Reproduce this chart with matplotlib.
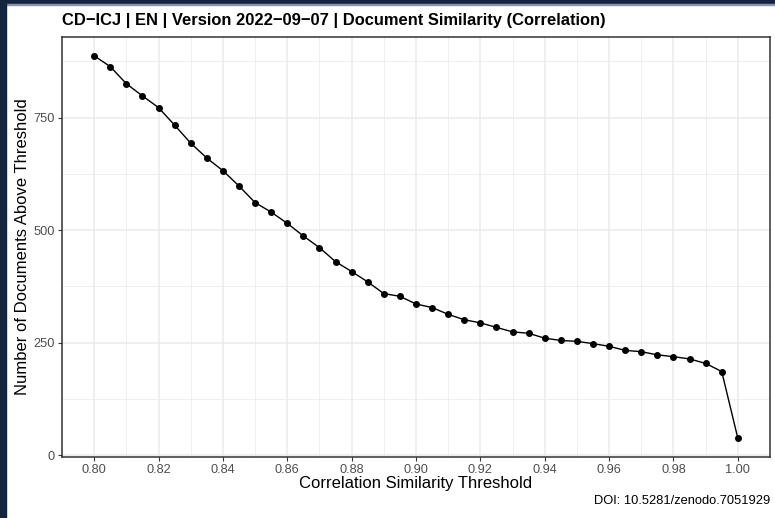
import matplotlib
matplotlib.use("Agg")
import matplotlib.pyplot as plt
from matplotlib.patches import Rectangle
from matplotlib.ticker import MultipleLocator

plt.rcParams['font.family'] = ['Liberation Sans', 'DejaVu Sans']

# thresholds 0.800 .. 1.000 in steps of 0.005
thresholds = [0.800, 0.805, 0.810, 0.815, 0.820, 0.825, 0.830, 0.835, 0.840, 0.845,
              0.850, 0.855, 0.860, 0.865, 0.870, 0.875, 0.880, 0.885, 0.890, 0.895,
              0.900, 0.905, 0.910, 0.915, 0.920, 0.925, 0.930, 0.935, 0.940, 0.945,
              0.950, 0.955, 0.960, 0.965, 0.970, 0.975, 0.980, 0.985, 0.990, 0.995,
              1.000]
doc_counts = [887, 863, 825, 798, 772, 733, 693, 660, 632, 598,
              561, 540, 515, 487, 461, 430, 408, 385, 359, 353,
              336, 328, 313, 301, 294, 284, 274, 271, 260, 255,
              253, 248, 242, 233, 230, 223, 219, 214, 204, 186,
              38]

x_ticks = [0.80, 0.82, 0.84, 0.86, 0.88, 0.90, 0.92, 0.94, 0.96, 0.98, 1.00]
x_labels = ["0.80", "0.82", "0.84", "0.86", "0.88", "0.90", "0.92", "0.94", "0.96", "0.98", "1.00"]
y_ticks = [0, 250, 500, 750]

title = "CD\u2212ICJ | EN | Version 2022\u221209\u221207 | Document Similarity (Correlation)"
caption = "DOI: 10.5281/zenodo.7051929"

W, H = 775, 518
fig = plt.figure(figsize=(W / 100, H / 100), dpi=100)
fig.patch.set_facecolor("white")

# dark frame on top and left edge
navy = "#14253f"
fig.patches.append(Rectangle((0, 1 - 4 / H), 1, 4 / H, transform=fig.transFigure,
                             color=navy, zorder=0))
fig.patches.append(Rectangle((0, 1 - 5 / H), 1, 1 / H, transform=fig.transFigure,
                             color="#8a96a8", zorder=0))
fig.patches.append(Rectangle((0, 0), 6 / W, 1, transform=fig.transFigure,
                             color=navy, zorder=0))

ax = fig.add_axes([62 / W, (H - 457.3) / H, (770 - 62) / W, (457.3 - 36.7) / H])

ax.plot(thresholds, doc_counts, color="black", linewidth=1.0, zorder=3)
ax.scatter(thresholds, doc_counts, color="black", s=16, zorder=4)

ax.set_xlim(0.79, 1.01)
ax.margins(y=0.05)

ax.set_xticks(x_ticks)
ax.set_xticklabels(x_labels)
ax.set_yticks(y_ticks)
ax.xaxis.set_minor_locator(MultipleLocator(0.01))
ax.yaxis.set_minor_locator(MultipleLocator(125))

ax.grid(which="major", color="#ebebeb", linewidth=1.1, zorder=0)
ax.grid(which="minor", color="#ebebeb", linewidth=0.55, zorder=0)
ax.set_axisbelow(True)

for s in ax.spines.values():
    s.set_color("#333333")
    s.set_linewidth(1.1)

ax.tick_params(which="major", length=3, width=0.8, color="#333333",
               labelsize=9.2, labelcolor="#4d4d4d", pad=2)
ax.tick_params(which="minor", length=0)

ax.set_xlabel("Correlation Similarity Threshold", fontsize=12, color="black", labelpad=0)
ax.set_ylabel("Number of Documents Above Threshold", fontsize=12, color="black", labelpad=3)

fig.text(62 / W, 1 - 20.5 / H, title, fontsize=11.9, fontweight="bold", ha="left", va="center")
fig.text(770 / W, 1 - 501 / H, caption, fontsize=9.3, ha="right", va="center")

fig.savefig("out.png", dpi=100)
